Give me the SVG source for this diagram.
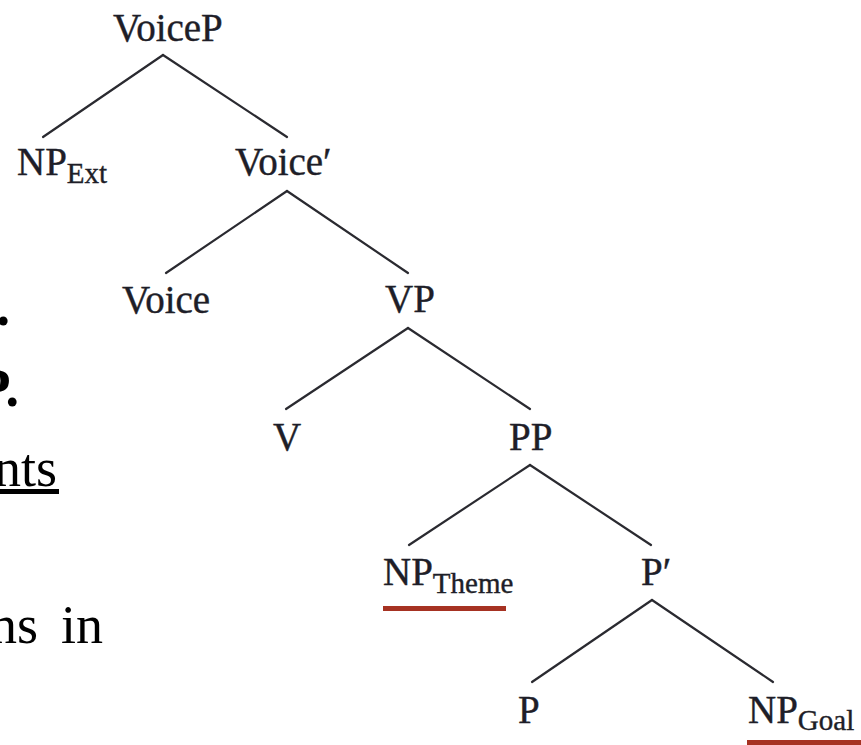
<svg xmlns="http://www.w3.org/2000/svg" width="861" height="745" viewBox="0 0 861 745">
  <style>
    .lbl { font-family: "Liberation Serif", "Times New Roman", serif; font-size: 39px; fill: #1e1e28; stroke: #1e1e28; stroke-width: 0.4px; }
    .sub { font-size: 29px; }
    .edge { stroke: #2a2a30; stroke-width: 2.2; stroke-linecap: round; fill: none; }
    .mark { fill: #a63222; }
    .bg { font-family: "Liberation Serif", "Times New Roman", serif; font-size: 54px; fill: #000; }
  </style>
  <rect width="861" height="745" fill="#ffffff"/>

  <!-- slide text running off the left edge -->
  <g id="slide-text">
    <text class="bg" x="10" y="325" text-anchor="end" font-weight="bold">P.</text>
    <text class="bg" x="19" y="406" text-anchor="end" font-weight="bold">P.</text>
    <text class="bg" x="57" y="486" text-anchor="end">nts</text>
    <rect x="0" y="489" width="59" height="5" fill="#000"/>
    <text class="bg" x="-10" y="643" font-size="55">ns<tspan x="61">in</tspan></text>
  </g>

  <!-- branches -->
  <g id="connectors">
    <line class="edge" x1="163" y1="55" x2="43" y2="137"/>
    <line class="edge" x1="163" y1="55" x2="287" y2="137"/>
    <line class="edge" x1="287" y1="191" x2="166" y2="273"/>
    <line class="edge" x1="287" y1="191" x2="408" y2="273"/>
    <line class="edge" x1="408" y1="328" x2="286" y2="409"/>
    <line class="edge" x1="408" y1="328" x2="530" y2="409"/>
    <line class="edge" x1="530" y1="465" x2="409" y2="545"/>
    <line class="edge" x1="530" y1="465" x2="651" y2="545"/>
    <line class="edge" x1="652" y1="600" x2="532" y2="682"/>
    <line class="edge" x1="652" y1="600" x2="773" y2="682"/>
  </g>

  <g id="voiceP"><text class="lbl" x="113" y="41">VoiceP</text></g>
  <g id="np-ext"><text class="lbl" x="17" y="175">NP<tspan class="sub" y="183">Ext</tspan></text></g>
  <g id="voice-bar"><text class="lbl" x="235" y="175">Voice′</text></g>
  <g id="voice"><text class="lbl" x="122" y="313">Voice</text></g>
  <g id="vp"><text class="lbl" x="385" y="312">VP</text></g>
  <g id="v"><text class="lbl" x="273" y="450">V</text></g>
  <g id="pp"><text class="lbl" x="509" y="450">PP</text></g>
  <g id="np-theme">
    <text class="lbl" x="383" y="585">NP<tspan class="sub" font-size="28" y="593">Theme</tspan></text>
    <rect class="mark" x="383" y="606" width="123" height="5"/>
  </g>
  <g id="p-bar"><text class="lbl" x="641" y="585">P′</text></g>
  <g id="p"><text class="lbl" x="518" y="723">P</text></g>
  <g id="np-goal">
    <text class="lbl" x="748" y="723">NP<tspan class="sub" font-size="28" y="730">Goal</tspan></text>
    <rect class="mark" x="747" y="740" width="114" height="5"/>
  </g>
</svg>
